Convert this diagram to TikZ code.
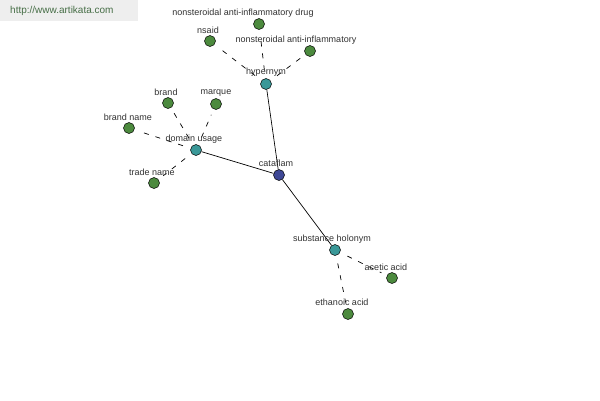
\documentclass[tikz,border=0pt]{standalone}
\usepackage{fontspec}
\setmainfont{Liberation Sans}
\definecolor{leafg}{RGB}{76,138,62}
\definecolor{hubt}{RGB}{58,152,152}
\definecolor{rootb}{RGB}{62,72,150}
\definecolor{wmbg}{RGB}{238,238,238}
\definecolor{wmtx}{RGB}{70,110,70}
\definecolor{lbl}{RGB}{50,50,50}
\tikzset{
  dot/.style={circle,draw=black,line width=0.5pt,minimum size=11pt,inner sep=0pt},
  leaf/.style={dot,fill=leafg},
  hub/.style={dot,fill=hubt},
  root/.style={dot,fill=rootb},
  lab/.style={font=\fontsize{9}{10}\selectfont,text=lbl,inner sep=0pt},
  solidedge/.style={line width=0.7pt},
  dashedge/.style={dashed,dash pattern=on 5pt off 7pt,line width=0.7pt,shorten <=8pt,shorten >=6pt}
}
\begin{document}
\begin{tikzpicture}[x=1pt,y=-1pt]
\useasboundingbox (0,0) rectangle (600,400);
\fill[white] (0,0) rectangle (600,400);
\node[fill=wmbg,minimum width=138pt,minimum height=21pt,anchor=north west,inner sep=0pt] (wm) at (0,0) {};
\node[font=\fontsize{10}{11}\selectfont,text=wmtx,anchor=west,inner sep=0pt] (wmt) at (10,11) {http://www.artikata.com};
\coordinate (pc) at (279,175);
\coordinate (ph) at (266,84);
\coordinate (pd) at (196,150);
\coordinate (ps) at (335,250);
\coordinate (pn1) at (210,41);
\coordinate (pn2) at (259,24);
\coordinate (pn3) at (310,51);
\coordinate (pb) at (168,103);
\coordinate (pm) at (216,104);
\coordinate (pbn) at (129,128);
\coordinate (pt) at (154,183);
\coordinate (pa) at (392,278);
\coordinate (pe) at (348,314);
\node[root] (cataflam) at (pc) {};
\node[hub] (hypernym) at (ph) {};
\node[hub] (domain) at (pd) {};
\node[hub] (subst) at (ps) {};
\node[leaf] (nsaid) at (pn1) {};
\node[leaf] (nsaiddrug) at (pn2) {};
\node[leaf] (nsai) at (pn3) {};
\node[leaf] (brand) at (pb) {};
\node[leaf] (marque) at (pm) {};
\node[leaf] (brandname) at (pbn) {};
\node[leaf] (trade) at (pt) {};
\node[leaf] (acetic) at (pa) {};
\node[leaf] (ethanoic) at (pe) {};
\draw[solidedge] (cataflam) -- (hypernym);
\draw[solidedge] (cataflam) -- (domain);
\draw[solidedge] (cataflam) -- (subst);
\draw[dashedge] (hypernym) -- (nsaid);
\draw[dashedge] (hypernym) -- (nsaiddrug);
\draw[dashedge] (hypernym) -- (nsai);
\draw[dashedge] (domain) -- (brand);
\draw[dashedge] (domain) -- (marque);
\draw[dashedge] (domain) -- (brandname);
\draw[dashedge] (domain) -- (trade);
\draw[dashedge] (subst) -- (acetic);
\draw[dashedge] (subst) -- (ethanoic);
\node[lab] (lc) at (276,163) {cataflam};
\node[lab] (lh) at (266,72) {hypernym};
\node[lab] (ld) at (194,139) {domain usage};
\node[lab] (ls) at (332,239) {substance holonym};
\node[lab] (ln1) at (208,30) {nsaid};
\node[lab] (ln2) at (243,13) {nonsteroidal anti-inflammatory drug};
\node[lab] (ln3) at (296,40) {nonsteroidal anti-inflammatory};
\node[lab] (lb) at (166,92) {brand};
\node[lab] (lm) at (216,93) {marque};
\node[lab] (lbn) at (128,117) {brand name};
\node[lab] (lt) at (152,172) {trade name};
\node[lab] (la) at (386,267) {acetic acid};
\node[lab] (le) at (342,302) {ethanoic acid};
\end{tikzpicture}
\end{document}
